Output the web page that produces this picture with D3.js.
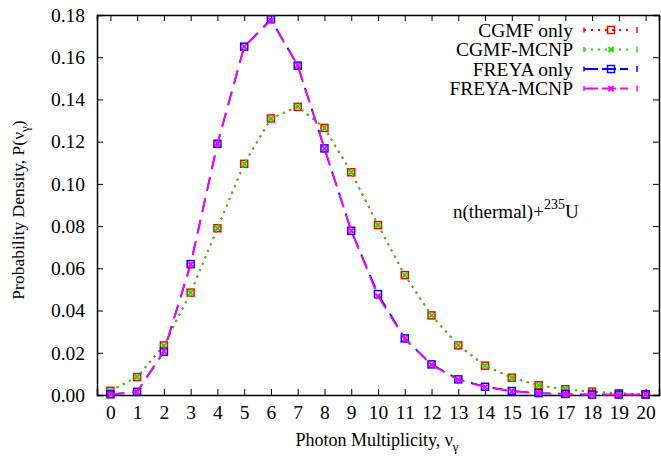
<!DOCTYPE html>
<html>
<head>
<meta charset="utf-8">
<script src="https://cdn.jsdelivr.net/npm/d3@7"></script>
<style>
  body { margin: 0; background: #fff; }
  text { font-family: "Liberation Serif", "DejaVu Serif", serif; fill: #000; }
</style>
</head>
<body>
<script>
// photon multiplicity distributions, n(thermal)+235U

var nu = d3.range(0, 21);
var cgmfOnly = [0.002, 0.0085, 0.0235, 0.0485, 0.079, 0.1095, 0.131, 0.1365, 0.1265, 0.1055,
  0.0805, 0.0568, 0.0377, 0.0235, 0.0139, 0.0082, 0.0046, 0.0027, 0.0016, 0.0008, 0.0003];
var cgmfMcnp = [0.002, 0.0085, 0.0235, 0.0485, 0.079, 0.1095, 0.131, 0.1367, 0.1265, 0.1055,
  0.0805, 0.0568, 0.0377, 0.0235, 0.0139, 0.0082, 0.0046, 0.0027, 0.0016, 0.0008, 0.0003];
var freyaOnly = [0.0003, 0.0015, 0.0205, 0.062, 0.119, 0.165, 0.178, 0.156, 0.1168, 0.0778,
  0.0478, 0.0268, 0.0145, 0.0074, 0.0039, 0.0019, 0.0009, 0.0005, 0.0002, 0.0002, 0.0002];
var freyaMcnp = [0.0003, 0.0015, 0.0208, 0.0618, 0.119, 0.165, 0.1775, 0.1562, 0.1168, 0.0778,
  0.0468, 0.0266, 0.0143, 0.0072, 0.0038, 0.0018, 0.0008, 0.0004, 0.0002, 0.0002, 0.0002];
var yTicks = [0, 0.02, 0.04, 0.06, 0.08, 0.10, 0.12, 0.14, 0.16, 0.18];
var seriesNames = ['CGMF only', 'CGMF-MCNP', 'FREYA only', 'FREYA-MCNP'];

var width = 661;
var height = 456;
var plotL = 97, plotR = 659, plotT = 15, plotB = 395;

var svg = d3.select('body').append('svg')
  .attr('width', width)
  .attr('height', height)

var x = d3.scaleLinear().domain([-0.5, 20.5]).range([plotL, plotR]);
var y = d3.scaleLinear().domain([0, 0.18]).range([plotB, plotT]);

var series = [
  {name: seriesNames[0], vals: cgmfOnly, color: '#ff0000', dash: '2,5', mark: 'square'},
  {name: seriesNames[1], vals: cgmfMcnp, color: '#22dd00', dash: '2,5', mark: 'cross'},
  {name: seriesNames[2], vals: freyaOnly, color: '#0000ff', dash: '14,8', mark: 'square'},
  {name: seriesNames[3], vals: freyaMcnp, color: '#ff00ff', dash: '14,8', mark: 'cross'}
];

// axes with inside ticks on all sides
var tickLen = 6;
svg.append('g')
  .attr('transform', 'translate(0,' + plotB + ')')
  .call(d3.axisBottom(x).tickValues(nu).tickSize(-tickLen).tickPadding(10).tickFormat(d3.format('d')))
svg.append('g')
  .attr('transform', 'translate(0,' + plotT + ')')
  .call(d3.axisTop(x).tickValues(nu).tickSize(-tickLen).tickFormat(''))
svg.append('g')
  .attr('transform', 'translate(' + plotL + ',0)')
  .call(d3.axisLeft(y).tickValues(yTicks).tickSize(-tickLen).tickPadding(12).tickFormat(d3.format('.2f')))
svg.append('g')
  .attr('transform', 'translate(' + plotR + ',0)')
  .call(d3.axisRight(y).tickValues(yTicks).tickSize(-tickLen).tickFormat(''))

svg.selectAll('.domain').attr('stroke', '#000').attr('stroke-width', 1.5)
svg.selectAll('.tick line').attr('stroke', '#000').attr('stroke-width', 1)
svg.selectAll('.tick text').style('font-size', '19.5px').style('font-family', '"Liberation Serif", serif')

var line = d3.line()
  .x(function(d, i) { return x(nu[i]) })
  .y(function(d) { return y(d) })

function drawMark(g, type, color, cx, cy) {
  if (type === 'square') {
    g.append('rect')
      .attr('x', cx - 3.5).attr('y', cy - 3.5)
      .attr('width', 7).attr('height', 7)
      .attr('fill', 'none')
      .attr('stroke', color)
      .attr('stroke-width', 1.5)
  } else {
    g.append('path')
      .attr('d', 'M' + (cx - 2.5) + ',' + (cy - 2.5) + 'L' + (cx + 2.5) + ',' + (cy + 2.5) +
        'M' + (cx - 2.5) + ',' + (cy + 2.5) + 'L' + (cx + 2.5) + ',' + (cy - 2.5))
      .attr('stroke', color)
      .attr('stroke-width', 2)
      .attr('fill', 'none')
  }
}

series.forEach(function(s) {
  var g = svg.append('g')
  g.append('path')
    .datum(s.vals)
    .attr('d', line)
    .attr('fill', 'none')
    .attr('stroke', s.color)
    .attr('stroke-width', 1.8)
    .attr('stroke-dasharray', s.dash)
  s.vals.forEach(function(v, i) {
    drawMark(g, s.mark, s.color, x(nu[i]), y(v))
  })
})

// legend
series.forEach(function(s, i) {
  var cy = 30 + i * 19.5;
  var g = svg.append('g')
  g.append('text')
    .attr('x', 573)
    .attr('y', cy + 6.5)
    .attr('text-anchor', 'end')
    .style('font-size', '19.5px')
    .text(s.name)
  g.append('line')
    .attr('x1', 584).attr('x2', 628)
    .attr('y1', cy).attr('y2', cy)
    .attr('stroke', s.color)
    .attr('stroke-width', 1.8)
    .attr('stroke-dasharray', s.dash === '2,5' ? '2,5' : '14,4')
  g.append('line')
    .attr('x1', 584).attr('x2', 584)
    .attr('y1', cy - 2.5).attr('y2', cy + 2.5)
    .attr('stroke', s.color).attr('stroke-width', 1.5)
  g.append('line')
    .attr('x1', 637).attr('x2', 637)
    .attr('y1', cy - 3).attr('y2', cy + 3)
    .attr('stroke', s.color).attr('stroke-width', 1.5)
  drawMark(g, s.mark, s.color, 611, cy)
})

// annotation
var ann = svg.append('text')
  .attr('x', 453)
  .attr('y', 218)
  .style('font-size', '19px')
ann.append('tspan').text('n(thermal)+')
ann.append('tspan').attr('dy', -9).style('font-size', '14px').text('235')
ann.append('tspan').attr('dy', 9).text('U')

// axis titles
var xt = svg.append('text')
  .attr('x', 377)
  .attr('y', 446)
  .attr('text-anchor', 'middle')
  .style('font-size', '18px')
xt.append('tspan').text('Photon Multiplicity, ν')
xt.append('tspan').attr('dy', 5).style('font-size', '13px').text('γ')

var yt = svg.append('text')
  .attr('transform', 'translate(24,210) rotate(-90)')
  .attr('text-anchor', 'middle')
  .style('font-size', '17.5px')
yt.append('tspan').text('Probability Density, P(ν')
yt.append('tspan').attr('dy', 5).style('font-size', '13px').text('γ')
yt.append('tspan').attr('dy', -5).text(')')
</script>
</body>
</html>
